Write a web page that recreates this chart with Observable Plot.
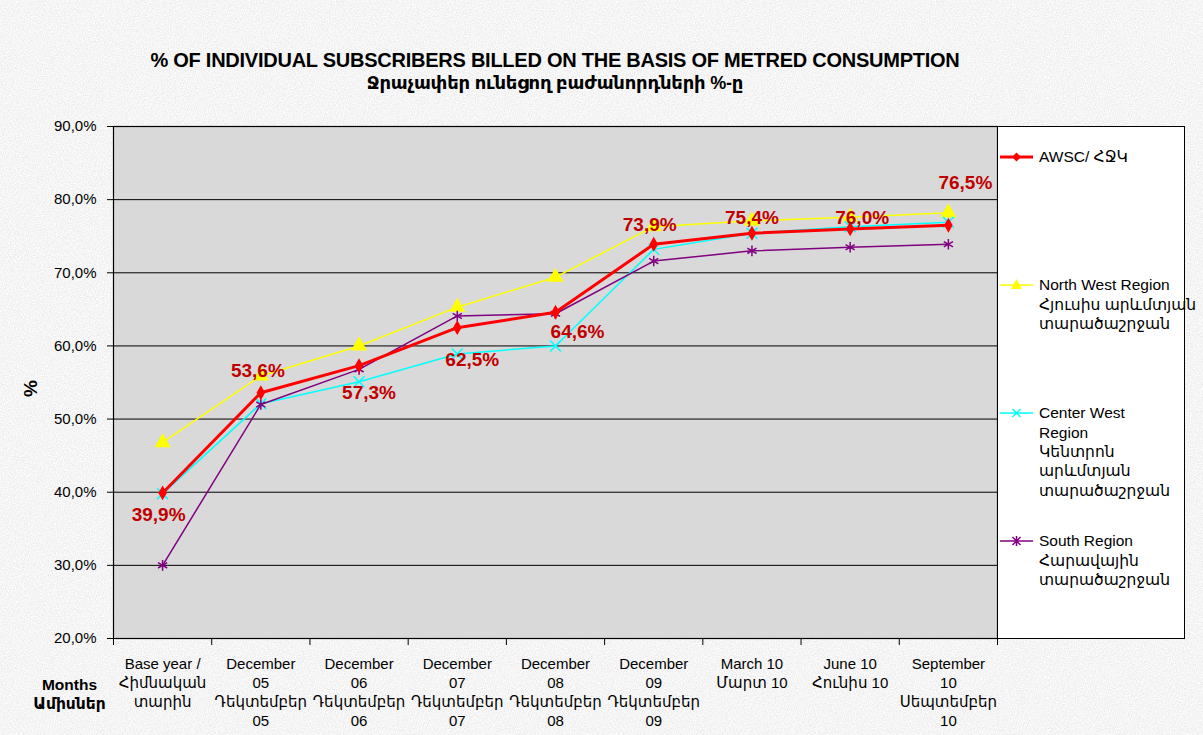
<!DOCTYPE html>
<html>
<head>
<meta charset="utf-8">
<script src="https://cdn.jsdelivr.net/npm/d3@7"></script>
<script src="https://cdn.jsdelivr.net/npm/@observablehq/plot@0.6"></script>
<style>
html, body { margin: 0; padding: 0; }
body {
  width: 1203px; height: 735px; position: relative; overflow: hidden;
  background-color: #e8e8e8;
  font-family: "Liberation Sans", Arial, "DejaVu Sans", sans-serif;
  color: #000;
}
#title {
  height: 100px; box-sizing: border-box; padding-top: 49px;
  width: 1110px; text-align: center; font-weight: bold;
  line-height: 23px;
}
#title .t1 { font-size: 20px; letter-spacing: -0.25px; }
#title .t2 { font-size: 18px; letter-spacing: -0.2px; }
#legend {
  position: absolute; left: 997px; top: 126px; width: 188px; height: 513px;
  box-sizing: border-box; background: #fff; border: 1px solid #000;
}
.item { position: absolute; left: 2px; width: 184px; }
.item svg { position: absolute; left: 0; top: 2.5px; }
.item .txt { position: absolute; left: 39px; font-size: 15.5px; line-height: 19.3px; white-space: pre; }
</style>
</head>
<body>
<div id="title"></div>
<div id="chart"></div>
<div id="legend"></div>
<script>
// ---------------- DATA ----------------
const titleLines = [
  "% OF INDIVIDUAL SUBSCRIBERS BILLED ON THE BASIS OF METRED CONSUMPTION",
  "Ջրաչափեր ունեցող բաժանորդների %-ը"
];
const categories = [
  "Base year /\nՀիմնական\nտարին",
  "December\n05\nԴեկտեմբեր\n05",
  "December\n06\nԴեկտեմբեր\n06",
  "December\n07\nԴեկտեմբեր\n07",
  "December\n08\nԴեկտեմբեր\n08",
  "December\n09\nԴեկտեմբեր\n09",
  "March 10\nՄարտ 10",
  "June 10\nՀունիս 10",
  "September\n10\nՍեպտեմբեր\n10"
];
const seriesNames = [
  "AWSC/ ՀՋԿ",
  "North West Region\nՀյուսիս արևմտյան\nտարածաշրջան",
  "Center West\nRegion\nԿենտրոն\nարևմտյան\nտարածաշրջան",
  "South Region\nՀարավային\nտարածաշրջան"
];
const awsc      = [39.9, 53.6, 57.3, 62.5, 64.6, 73.9, 75.4, 76.0, 76.5];
const northWest = [46.8, 55.9, 60.0, 65.3, 69.4, 76.3, 77.1, 77.6, 78.2];
const centerWest= [39.8, 52.1, 55.1, 58.9, 60.0, 73.2, 75.4, 76.3, 76.9];
const south     = [30.0, 52.0, 56.8, 64.1, 64.4, 71.6, 73.0, 73.5, 73.9];
const yTicks = [20, 30, 40, 50, 60, 70, 80, 90];
const yAxisLabel = "%";
const xAxisTitle = "Months\nԱմիսներ";

// ---------------- STYLE ----------------
const font = `"Liberation Sans", Arial, "DejaVu Sans", sans-serif`;
const styles = [
  {color: "#ff0000", width: 3,   symbol: "diamond",  r: 4.5, fill: true},
  {color: "#ffff00", width: 1.5, symbol: "triangle", r: 6,   fill: true},
  {color: "#00ffff", width: 1.5, symbol: "times",    r: 5,   fill: false},
  {color: "#800080", width: 1.5, symbol: "asterisk", r: 5,   fill: false}
];
const labelColor = "#c00000";
const labelOffsets = [[-4, 22], [-3, -22], [10, 27], [15, 32], [22, 20], [-4, -19], [0, -15], [12, -11], [17, -42]];

// noisy background
const noise = `<svg xmlns='http://www.w3.org/2000/svg' width='300' height='300'><filter id='f'><feTurbulence type='fractalNoise' baseFrequency='0.85' numOctaves='3' stitchTiles='stitch'/><feColorMatrix type='matrix' values='0.32 0 0 0 0.75  0.32 0 0 0 0.75  0.32 0 0 0 0.75  0 0 0 0 1'/></filter><rect width='300' height='300' filter='url(#f)'/></svg>`;
document.body.style.backgroundImage = `url("data:image/svg+xml,${encodeURIComponent(noise)}")`;

// title
document.getElementById("title").innerHTML = titleLines.map((t, i) => `<div class="t${i + 1}">${t}</div>`).join("");

const fmt = v => v.toFixed(1).replace(".", ",") + "%";
const allSeries = [awsc, northWest, centerWest, south];
const tables = allSeries.map(vals => vals.map((v, i) => ({i, v})));
const drawOrder = [1, 2, 3, 0];

const chart = Plot.plot({
  width: 1203, height: 635,
  marginTop: 26, marginBottom: 97, marginLeft: 113, marginRight: 206,
  style: {background: "transparent", fontFamily: font, fontSize: "15px", color: "black", overflow: "visible"},
  x: {domain: [-0.5, 8.5]},
  y: {domain: [20, 90]},
  marks: [
    Plot.frame({fill: "#d9d9d9"}),
    Plot.gridY(yTicks, {stroke: "black", strokeOpacity: 1, strokeWidth: 1}),
    Plot.axisY(yTicks, {tickFormat: fmt, tickSize: 6, tickPadding: 11, fontSize: 15, label: null}),
    Plot.axisX(d3.range(10).map(i => i - 0.5), {tickSize: 7, tickFormat: () => "", label: null}),
    Plot.axisX(d3.range(9), {tickFormat: i => categories[i], tickSize: 0, tickPadding: 17, fontSize: 15, lineHeight: 1.27, label: null}),
    Plot.text([yAxisLabel], {frameAnchor: "left", dx: -83, dy: 6, rotate: -90, textAnchor: "middle", lineAnchor: "middle", fontSize: 19, fontWeight: "bold"}),
    Plot.text([xAxisTitle], {frameAnchor: "bottom-left", dx: -44, dy: 54.5, textAnchor: "middle", lineAnchor: "middle", fontSize: 15.5, fontWeight: "bold", lineHeight: 1.24}),
    ...drawOrder.flatMap(k => [
      Plot.line(tables[k], {x: "i", y: "v", stroke: styles[k].color, strokeWidth: styles[k].width}),
      Plot.dot(tables[k], {x: "i", y: "v", symbol: () => styles[k].symbol, r: styles[k].r,
        fill: styles[k].fill ? styles[k].color : "none",
        stroke: styles[k].color, strokeWidth: styles[k].fill ? 0 : 1.5})
    ]),
    ...labelOffsets.map(([dx, dy], j) =>
      Plot.text([tables[0][j]], {x: "i", y: "v", text: d => fmt(d.v), dx, dy,
        fill: labelColor, fontSize: 19, fontWeight: "bold"})),
    Plot.frame({stroke: "black", strokeWidth: 1.2})
  ]
});
document.getElementById("chart").appendChild(chart);

// legend
const legend = document.getElementById("legend");
const symbolPath = {
  diamond: (c) => `<path d="M16.5 2.5 L21 7 L16.5 11.5 L12 7 Z" fill="${c}"/>`,
  triangle: (c) => `<path d="M16.5 1 L22 11 L11 11 Z" fill="${c}"/>`,
  times: (c) => `<path d="M12.5 3 L20.5 11 M20.5 3 L12.5 11" stroke="${c}" stroke-width="1.5"/>`,
  asterisk: (c) => `<path d="M12.5 3 L20.5 11 M20.5 3 L12.5 11 M16.5 2 L16.5 12" stroke="${c}" stroke-width="1.5"/>`
};
seriesNames.forEach((name, k) => {
  const st = styles[k];
  const div = document.createElement("div");
  div.className = "item";
  div.style.top = (30 + k * 128 - 9.65) + "px";
  div.innerHTML = `<svg width="34" height="14" viewBox="0 0 34 14"><line x1="0" y1="7" x2="33" y2="7" stroke="${st.color}" stroke-width="${st.width}"/>${symbolPath[st.symbol](st.color)}</svg><div class="txt">${name}</div>`;
  legend.appendChild(div);
});
</script>
</body>
</html>
